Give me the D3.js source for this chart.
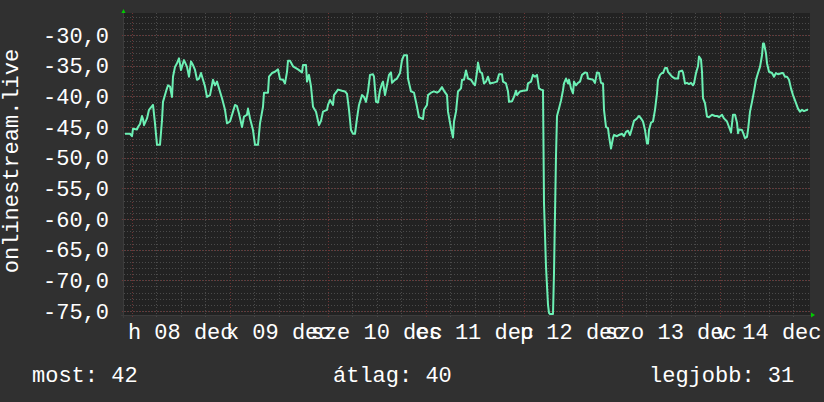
<!DOCTYPE html>
<html lang="hu">
<head>
<meta charset="utf-8">
<script src="https://cdn.jsdelivr.net/npm/d3@7"></script>
<style>
  body { margin: 0; background: #303030; }
  svg { display: block; }
  text { font-family: "Liberation Mono", "DejaVu Sans Mono", monospace; fill: #ffffff; }
</style>
</head>
<body>
<script>
// --- data ---
// sample index (one RRD step each, 686 steps over 7 days) and signal value
var sampleIdx = [1,6,8,9,13,14,16,18,19,20,23,25,28,29,31,33,36,38,39,42,44,46,48,49,51,53,55,57,59,60,63,65,67,69,71,73,75,77,79,81,83,86,89,91,93,95,98,101,103,106,109,111,113,115,118,120,123,124,126,129,131,134,136,139,140,144,145,148,151,154,156,159,161,163,164,166,169,174,178,179,182,183,185,187,189,192,195,197,199,203,204,206,209,210,214,218,221,223,225,227,229,231,233,235,238,240,242,244,246,249,250,252,254,256,258,259,261,263,265,267,268,271,273,276,278,280,283,284,287,290,293,295,299,300,303,304,307,310,313,315,318,320,323,324,327,329,330,332,334,337,338,340,342,344,347,349,351,353,354,356,358,360,362,364,366,369,373,375,378,379,382,384,385,388,390,392,393,396,399,403,404,407,409,411,413,415,417,419,420,422,424,425,426,429,430,432,433,435,437,439,440,442,444,445,447,449,450,452,454,456,458,461,463,464,467,469,471,473,475,477,479,480,482,484,485,487,489,490,493,495,498,500,502,504,506,508,510,513,515,517,519,521,523,524,525,527,529,531,533,534,536,538,539,541,543,544,548,551,554,555,558,559,561,563,565,567,569,570,572,574,575,577,578,579,581,583,585,588,591,593,595,598,600,603,605,607,609,611,613,614,615,618,619,621,623,624,626,628,630,632,634,636,638,639,640,642,643,645,648,650,652,654,658,659,661,663,665,667,669,672,674,676,678,680,683,684];
var signal = [-46.1,-46.1,-46.5,-45.3,-45.4,-45.0,-44.5,-43.2,-43.7,-44.7,-43.6,-42.2,-41.6,-41.4,-44.4,-47.9,-47.9,-43.9,-40.9,-39.2,-38.2,-38.4,-40.1,-36.8,-35.2,-34.6,-33.8,-35.7,-34.6,-34.1,-35.2,-36.8,-34.3,-34.9,-35.7,-37.3,-37.1,-36.2,-37.3,-38.4,-40.1,-39.8,-37.3,-38.2,-37.6,-38.7,-40.3,-42.2,-44.4,-44.1,-42.5,-41.4,-41.6,-42.8,-45.0,-43.3,-43.0,-42.0,-43.6,-45.5,-47.9,-47.9,-44.4,-41.7,-39.4,-39.4,-36.8,-36.2,-36.0,-35.6,-37.2,-37.3,-37.9,-36.0,-34.2,-34.2,-35.1,-35.6,-36.1,-34.9,-34.9,-37.6,-36.5,-38.4,-41.7,-42.5,-44.7,-44.0,-42.5,-42.2,-41.4,-40.6,-41.4,-39.8,-38.9,-39.1,-39.2,-39.6,-42.2,-45.5,-46.1,-46.1,-43.6,-41.4,-39.8,-40.1,-40.9,-39.2,-36.5,-36.4,-36.8,-40.9,-41.0,-39.0,-37.9,-37.6,-39.8,-38.2,-36.5,-36.1,-37.8,-37.3,-37.1,-36.2,-34.1,-33.3,-33.3,-37.1,-39.2,-39.4,-41.7,-43.4,-43.7,-42.2,-41.4,-39.8,-39.4,-39.2,-39.4,-39.2,-38.5,-39.1,-39.8,-42.5,-45.2,-46.7,-44.1,-42.5,-39.2,-38.7,-37.3,-37.3,-35.8,-37.1,-37.3,-37.8,-38.2,-36.0,-34.5,-36.0,-36.2,-37.9,-37.6,-36.8,-37.9,-37.8,-37.6,-36.4,-36.4,-37.6,-37.9,-39.2,-40.9,-40.8,-40.1,-39.1,-39.8,-39.2,-39.1,-39.0,-37.9,-37.6,-36.5,-36.8,-36.5,-38.7,-38.9,-39.0,-57.4,-67.8,-74.0,-75.3,-75.5,-75.5,-68.8,-49.7,-43.2,-42.0,-40.7,-39.0,-37.9,-37.1,-37.9,-37.3,-38.7,-39.5,-37.6,-38.2,-37.8,-37.6,-36.5,-36.1,-36.2,-37.1,-37.2,-37.3,-37.8,-36.1,-36.2,-37.8,-37.9,-42.2,-45.0,-45.2,-46.5,-48.5,-46.8,-46.3,-46.5,-46.3,-46.1,-46.5,-45.8,-45.6,-46.3,-45.2,-44.0,-43.6,-43.2,-43.6,-44.1,-45.5,-47.7,-47.7,-45.5,-44.3,-44.1,-42.2,-39.5,-37.3,-36.5,-36.2,-36.2,-35.4,-35.4,-36.0,-36.8,-37.1,-37.1,-36.0,-35.8,-36.1,-37.9,-37.8,-38.0,-37.8,-38.2,-37.9,-36.2,-35.1,-33.5,-34.0,-36.0,-40.3,-41.1,-43.3,-43.4,-43.0,-43.2,-43.2,-43.4,-43.0,-43.6,-44.1,-45.0,-45.9,-43.0,-43.0,-44.3,-46.0,-45.4,-45.5,-45.9,-46.8,-46.6,-45.5,-42.5,-40.9,-39.2,-37.3,-36.2,-35.2,-33.3,-31.4,-31.4,-33.0,-34.6,-36.0,-36.2,-36.8,-36.2,-36.4,-36.2,-36.2,-36.8,-36.8,-37.3,-38.7,-39.8,-41.1,-42.0,-42.5,-42.2,-42.4,-42.2,-42.2];

var yTicks = [-75, -70, -65, -60, -55, -50, -45, -40, -35, -30];
var xLabels = ["h 08 dec", "k 09 dec", "sze 10 dec", "cs 11 dec", "p 12 dec", "szo 13 dec", "v 14 dec"];
var yTitle = "onlinestream.live";
var legendItems = ["most: 42", "átlag: 40", "legjobb: 31"];

// --- layout ---
var W = 824, H = 402;
var plot = {left: 124, right: 810, top: 13, bottom: 315};

var start = new Date(Date.UTC(2025, 11, 8) - 6788 * 1000);  // 7 Dec ~22:07
var end = new Date(start.getTime() + 7 * 86400 * 1000);
var step = 7 * 86400 * 1000 / 686;

var data = sampleIdx.map(function(d, i) {
  return {t: new Date(start.getTime() + d * step), v: signal[i]};
});

var x = d3.scaleUtc().domain([start, end]).range([plot.left, plot.right]);
var y = d3.scaleLinear().domain([-75.652, -26.413]).range([plot.bottom, plot.top]);

var loc = d3.formatLocale({decimal: ",", thousands: " ", grouping: [3], currency: ["", ""], minus: "-"});
var fmt = loc.format(".1f");

var svg = d3.select("body").append("svg")
  .attr("width", W)
  .attr("height", H);

svg.append("rect").attr("width", W).attr("height", H).attr("fill", "#303030");

svg.append("rect")
  .attr("x", plot.left).attr("y", plot.top)
  .attr("width", plot.right - plot.left)
  .attr("height", plot.bottom - plot.top)
  .attr("fill", "#222222");

var grid = svg.append("g").attr("shape-rendering", "crispEdges");

// minor horizontal grid, one unit apart
grid.selectAll(".hmin")
  .data(d3.range(-75, -26))
  .enter().append("line")
    .attr("x1", plot.left).attr("x2", plot.right)
    .attr("y1", d => Math.round(y(d)) + 0.5)
    .attr("y2", d => Math.round(y(d)) + 0.5)
    .attr("stroke", "#4a4a4a")
    .attr("stroke-dasharray", "1,2");

// minor vertical grid, 6 hours
grid.selectAll(".vmin")
  .data(d3.utcHour.every(6).range(start, end))
  .enter().append("line")
    .attr("x1", d => Math.round(x(d)) + 0.5)
    .attr("x2", d => Math.round(x(d)) + 0.5)
    .attr("y1", plot.top).attr("y2", plot.bottom + 2)
    .attr("stroke", "#4a4a4a")
    .attr("stroke-dasharray", "1,2");

// major horizontal grid
grid.selectAll(".hmaj")
  .data(yTicks)
  .enter().append("line")
    .attr("x1", plot.left - 2).attr("x2", plot.right)
    .attr("y1", d => Math.round(y(d)) + 0.5)
    .attr("y2", d => Math.round(y(d)) + 0.5)
    .attr("stroke", "#6e3434")
    .attr("stroke-dasharray", "1,2");

// major vertical grid, midnight
var days = d3.utcDay.range(start, end);
grid.selectAll(".vmaj")
  .data(days)
  .enter().append("line")
    .attr("x1", d => Math.round(x(d)) + 0.5)
    .attr("x2", d => Math.round(x(d)) + 0.5)
    .attr("y1", plot.top).attr("y2", plot.bottom + 3)
    .attr("stroke", "#6e3434")
    .attr("stroke-dasharray", "1,2");

// axes
grid.append("line")
  .attr("x1", plot.left - 3).attr("x2", plot.right + 2)
  .attr("y1", plot.bottom + 0.5).attr("y2", plot.bottom + 0.5)
  .attr("stroke", "#3c3c3c");
grid.append("line")
  .attr("x1", plot.left - 0.5).attr("x2", plot.left - 0.5)
  .attr("y1", plot.top - 2).attr("y2", plot.bottom + 3)
  .attr("stroke", "#3c3c3c");

// arrows
svg.append("path")
  .attr("d", "M" + (plot.left - 2.5) + "," + (plot.top) + "L" + (plot.left + 1.5) + "," + plot.top + "L" + (plot.left - 0.5) + "," + (plot.top - 4) + "Z")
  .attr("fill", "#00cc00");
svg.append("path")
  .attr("d", "M" + (plot.right + 1) + "," + (plot.bottom - 2.5) + "L" + (plot.right + 1) + "," + (plot.bottom + 2.5) + "L" + (plot.right + 5) + "," + (plot.bottom) + "Z")
  .attr("fill", "#00cc00");

// the signal line
var line = d3.line()
  .x(d => x(d.t))
  .y(d => y(d.v));

svg.append("path")
  .datum(data)
  .attr("d", line)
  .attr("fill", "none")
  .attr("stroke", "#6cf0b4")
  .attr("stroke-width", 2)
  .attr("stroke-linejoin", "round");

// y tick labels
svg.append("g").selectAll("text")
  .data(yTicks)
  .enter().append("text")
    .attr("x", 109)
    .attr("y", d => y(d) + 7.5)
    .attr("text-anchor", "end")
    .attr("font-size", 22)
    .text(d => fmt(d));

// x labels, centred at noon of each day
svg.append("g").selectAll("text")
  .data(xLabels)
  .enter().append("text")
    .attr("x", (d, i) => x(d3.utcHour.offset(days[i], 12)))
    .attr("y", 339)
    .attr("text-anchor", "middle")
    .attr("font-size", 22)
    .text(d => d);

// y title
svg.append("text")
  .attr("transform", "translate(17.5,161) rotate(-90)")
  .attr("text-anchor", "middle")
  .attr("font-size", 22)
  .text(yTitle);

// legend
var legendX = [32, 333, 649];
svg.append("g").selectAll("text")
  .data(legendItems)
  .enter().append("text")
    .attr("x", (d, i) => legendX[i])
    .attr("y", 381.5)
    .attr("font-size", 22)
    .text(d => d);
</script>
</body>
</html>
